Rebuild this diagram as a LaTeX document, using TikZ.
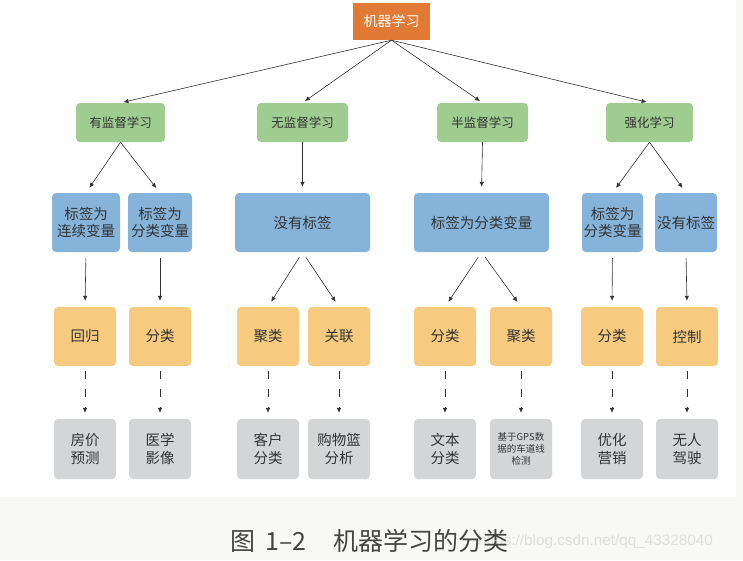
\documentclass[tikz,border=0pt]{standalone}
\usepackage{fontspec}
\setmainfont{Liberation Sans}
\newfontfamily\cjk{Noto Sans CJK SC}
\usetikzlibrary{arrows.meta}
\definecolor{topc}{HTML}{E07A35}
\definecolor{grn}{HTML}{9FCC91}
\definecolor{blu}{HTML}{86B3D9}
\definecolor{org}{HTML}{F6CB80}
\definecolor{gry}{HTML}{D4D5D7}
\definecolor{txt}{HTML}{333333}
\definecolor{capc}{HTML}{444444}
\definecolor{bgc}{HTML}{F8F8F6}
\definecolor{wm}{HTML}{DEDEDE}
\tikzset{
  box/.style={rounded corners=4pt, inner sep=0pt, align=center, text=txt, font=\cjk\fontsize{14.5}{17.5}\selectfont},
  gbox/.style={box, fill=grn, minimum height=39pt, font=\cjk\fontsize{12.5}{15}\selectfont},
  bbox/.style={box, fill=blu, minimum height=59pt},
  obox/.style={box, fill=org, minimum width=62pt, minimum height=59pt},
  ybox/.style={box, fill=gry, minimum width=62pt, minimum height=60pt},
  arr/.style={draw=txt, line width=0.6pt, -{Latex[length=5pt,width=4.5pt]}},
  darr/.style={arr, dash pattern=on 8pt off 10pt},
}
\begin{document}
\begin{tikzpicture}[x=1pt,y=-1pt]
\fill[bgc] (0,0) rectangle (743,560);
\fill[white] (0,0) rectangle (736,497);
\useasboundingbox (0,0) rectangle (743,560);
% top
\node[fill=topc, inner sep=0pt, minimum width=77pt, minimum height=37pt, text=white, font=\cjk\fontsize{14}{17}\selectfont] (top) at (391.5,21.5) {机器学习};
% level 2
\node[gbox, minimum width=89pt] (g1) at (120.5,122.5) {有监督学习};
\node[gbox, minimum width=91pt] (g2) at (302.5,122.5) {无监督学习};
\node[gbox, minimum width=91pt] (g3) at (482.5,122.5) {半监督学习};
\node[gbox, minimum width=87pt] (g4) at (649.5,122.5) {强化学习};
% level 3
\node[bbox, minimum width=68pt] (b1) at (86,222.5) {标签为\\连续变量};
\node[bbox, minimum width=64pt] (b2) at (160,222.5) {标签为\\分类变量};
\node[bbox, minimum width=135pt] (b3) at (302.5,222.5) {没有标签};
\node[bbox, minimum width=135pt] (b4) at (481.5,222.5) {标签为分类变量};
\node[bbox, minimum width=61pt] (b5) at (612.5,222.5) {标签为\\分类变量};
\node[bbox, minimum width=62pt] (b6) at (686,222.5) {没有标签};
% level 4
\node[obox] (o1) at (85,336.5) {回归};
\node[obox] (o2) at (160,336.5) {分类};
\node[obox] (o3) at (268,336.5) {聚类};
\node[obox] (o4) at (339,336.5) {关联};
\node[obox] (o5) at (445,336.5) {分类};
\node[obox] (o6) at (521,336.5) {聚类};
\node[obox] (o7) at (612,336.5) {分类};
\node[obox] (o8) at (687,336.5) {控制};
% level 5
\node[ybox] (y1) at (85,449) {房价\\预测};
\node[ybox] (y2) at (160,449) {医学\\影像};
\node[ybox] (y3) at (268,449) {客户\\分类};
\node[ybox] (y4) at (339,449) {购物篮\\分析};
\node[ybox] (y5) at (445,449) {文本\\分类};
\node[ybox, font=\cjk\fontsize{9.5}{12}\selectfont] (y6) at (521,449) {基于GPS数\\据的车道线\\检测};
\node[ybox] (y7) at (612,449) {优化\\营销};
\node[ybox] (y8) at (687,449) {无人\\驾驶};
% connectors top -> level 2
\foreach \g in {g1,g2,g3,g4} \draw[arr, shorten >=3pt] (top.south) -- (\g.north);
% level 2 -> 3
\draw[arr, shorten >=6pt] (g1.south) -- (b1.north);
\draw[arr, shorten >=6pt] (g1.south) -- (b2.north);
\draw[arr, shorten >=6pt] (g2.south) -- (b3.north);
\draw[arr, shorten >=6pt] (g3.south) -- (b4.north);
\draw[arr, shorten >=6pt] (g4.south) -- (b5.north);
\draw[arr, shorten >=6pt] (g4.south) -- (b6.north);
% level 3 -> 4
\draw[arr, shorten <=6pt, shorten >=6pt] (b1.south) -- (o1.north);
\draw[arr, shorten <=6pt, shorten >=6pt] (b2.south) -- (o2.north);
\draw[arr, shorten <=6pt, shorten >=6pt] (b3.south) -- (o3.north);
\draw[arr, shorten <=6pt, shorten >=6pt] (b3.south) -- (o4.north);
\draw[arr, shorten <=6pt, shorten >=6pt] (b4.south) -- (o5.north);
\draw[arr, shorten <=6pt, shorten >=6pt] (b4.south) -- (o6.north);
\draw[arr, shorten <=6pt, shorten >=6pt] (b5.south) -- (o7.north);
\draw[arr, shorten <=6pt, shorten >=6pt] (b6.south) -- (o8.north);
% level 4 -> 5
\foreach \i in {1,...,8} \draw[darr, shorten <=5pt, shorten >=6pt] (o\i.south) -- (y\i.north);
% caption
\node[anchor=west, text=wm, font=\fontsize{15.3}{18}\selectfont, inner sep=0pt] (wmk) at (478,542) {https://blog.csdn.net/qq\_43328040};
\node[anchor=west, text=capc, font=\cjk\fontsize{25}{30}\selectfont, inner sep=0pt] (cap) at (230,541) {图\hspace{0.4em}1–2\hspace{1.1em}机器学习的分类};
\end{tikzpicture}
\end{document}
